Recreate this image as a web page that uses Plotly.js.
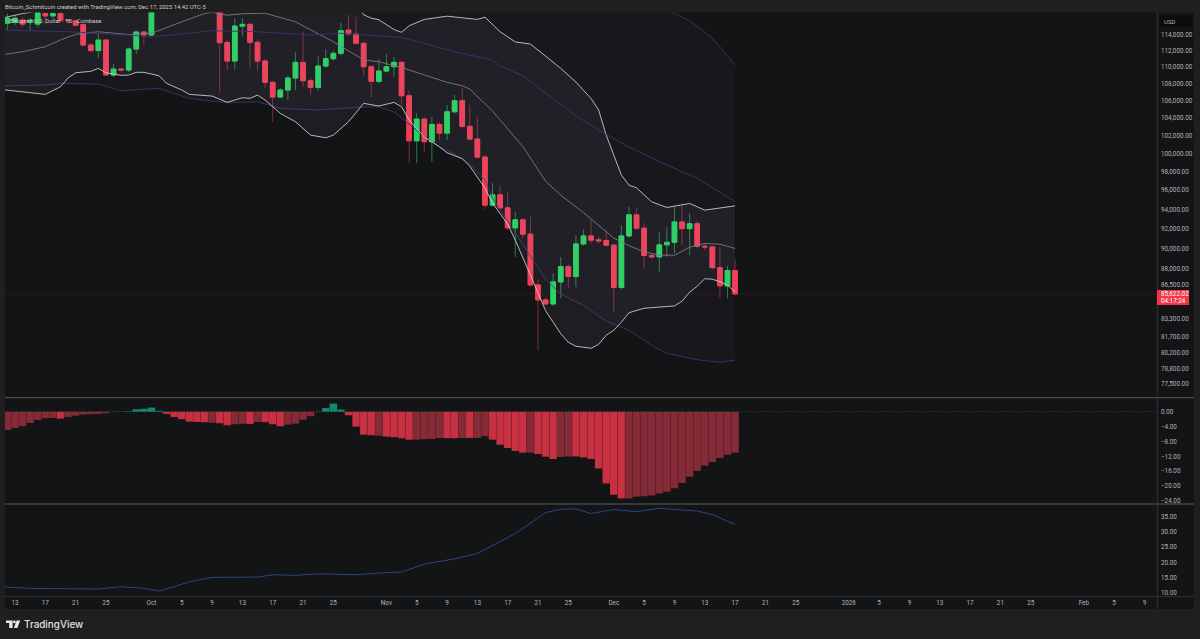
<!DOCTYPE html>
<html><head><meta charset="utf-8">
<style>html,body{margin:0;padding:0;background:#1e1e1f;overflow:hidden}#c{width:1200px;height:639px}</style>
<script src="https://cdn.plot.ly/plotly-3.0.1.min.js"></script>
</head><body><div id="c"></div>
<script>
// Candles: one per day, index 0 = Sep 12 2025, index 96 = Dec 17 2025
const open = [115450,115580,115830,115580,115330,116680,116380,116680,115830,115740,115265,112700,112010,113320,109020,109750,109630,112200,114330,113950,118600,120600,122300,122400,123500,124700,121400,123300,121700,113000,110724,115080,115300,113035,110724,108150,106406,107232,108663,110565,108340,107550,110113,111006,111669,114570,114075,112910,110030,108270,109510,110030,110565,106560,101390,103850,101280,103240,102255,104690,105980,103020,101590,99580,94436,95517,94155,92100,92920,91460,86475,85055,84680,86760,88250,87280,90480,91285,90890,90830,90355,86230,91285,93430,92070,89330,89194,90385,90640,92700,92020,92520,90250,90180,88140,86380,87860];
const high = [116720,116500,116200,116080,117000,117300,117500,117000,116000,115900,115400,113000,114200,113400,110350,109800,112400,114500,114400,118800,121000,123900,122900,125500,126000,125000,124000,123700,122500,113400,116080,116080,115500,113400,111000,108300,107450,109000,111793,114365,108700,111337,112202,111990,115500,116470,116255,113100,110200,110970,111580,111177,110700,107232,104540,104115,104080,103500,105470,106640,107430,105470,104115,99800,96760,96550,95830,93740,93100,93225,87000,85300,87600,89194,88500,91360,91950,92950,91200,91865,90500,92375,94260,94125,92580,89500,91700,92200,94260,94436,93590,92800,90500,90300,90180,88300,88930];
const low = [114575,115200,114950,114450,114950,115300,116000,115600,115500,115000,112500,111730,111090,108900,108780,109500,109390,111580,112700,113800,118400,119300,121600,122000,123000,120700,121000,119500,106912,109630,109750,113740,109870,109510,107470,103540,106300,106054,107232,107623,106640,107200,109900,110800,111400,113900,112800,108940,106370,108000,109300,108820,105500,98925,98925,100170,99060,101480,101480,104500,102800,101400,99400,94000,94300,94000,91900,89194,91060,86300,80456,84500,84500,85215,86160,86285,90300,90555,90500,90200,83934,86000,91100,91900,88080,89000,87730,89194,89560,90355,89360,90000,89850,88000,85215,85215,85500];
const close = [116080,116080,115330,115830,116780,116380,116680,115830,115780,115200,112700,112010,113320,109020,109750,109630,112200,114330,113950,118600,120600,122300,122400,123500,124700,121400,123300,121700,113000,110724,115080,115300,113035,110724,108150,106406,107232,108663,110565,108340,107550,110113,111006,111669,114490,114075,112910,110030,108270,109510,110030,110565,106560,101390,103850,101280,103240,102255,104690,105980,103020,101590,99580,94436,95517,94155,92100,92920,91460,86475,85055,84680,86760,88250,87280,90480,91285,90860,90790,90355,86230,91285,93430,92070,89330,89194,90385,90640,92700,92020,92520,90250,90180,88140,86380,87860,85622];

// Bollinger-type lines, read at their vertices (day index, price)
const whiteLowerDays = [-1,1,3,5,7,8,9,11,12,13,15,16,17,18,20,21,23,24,27,29,31,32,33,34,36,38,40,42,43,44,45,47,49,51,52,53,55,57,58,60,61,63,64,66,67,69,70,71,72,73,74,75,77,78,79,80,81,82,84,88,89,90,91,92,93,94,95,96];
const whiteLower = [107315,107114,106913,106723,107623,108663,109301,109471,109835,109301,108987,109023,109350,109350,108940,108027,107232,106723,106523,105785,106324,106253,106640,106054,104506,103541,102030,101727,102030,102789,103541,105667,105353,105785,105271,103736,101806,100720,100055,99416,98595,96228,94646,92475,90855,87408,85686,84046,82984,81936,81171,80812,80634,80990,81800,82254,82984,83860,84278,84492,84932,85781,86352,87071,87023,86783,86447,85810];
const whiteUpperDays = [-1,0,2,10,19,28,36,44,47,48,49,51,52,53,55,58,62,63,65,67,69,71,73,75,77,78,79,81,82,83,85,87,90,92,96];
const whiteUpper = [115966,116255,116684,118000,120000,127000,127500,121000,116530,116090,115890,114643,114290,115120,115930,116344,115930,116218,114365,113090,112822,111337,109835,108184,106230,104889,102030,97619,96547,96260,94782,94198,94614,93918,94364];
const midDays = [-1,2,5,7,9,12,16,19,23,26,27,29,31,34,38,43,47,49,52,56,58,60,61,64,68,71,73,76,78,80,82,84,86,88,90,92,94,96];
const midLine = [111459,111867,112487,113323,114038,114365,114013,114164,115625,116684,116850,116470,116660,116722,115625,113110,110846,110638,109931,108783,108148,107742,107350,104771,100742,96976,95485,93658,92372,91056,90304,89688,89360,89360,90155,90524,90453,90025];
const purpleMidDays = [-1,8,16,19,27,33,40,44,51,52,59,64,65,68,71,73,75,78,82,87,91,96];
const purpleMid = [114580,114365,113950,113700,114490,114365,113950,114160,113737,113662,111867,110846,110113,108940,106876,105585,104252,102594,100687,98704,97297,94782];
const purpleUpperDays = [-1,19,40,60,75,84,88,90,93,96];
const purpleUpper = [121000,124000,128000,128000,122000,118500,116684,115770,113575,110240];
const purpleLowerDays = [-1,5,7,12,15,20,24,29,33,36,41,46,49,51,52,54,57,59,61,63,64,67,69,71,73,76,79,82,85,87,91,94,96];
const purpleLower = [107706,107825,108027,107944,107150,107434,106253,105738,105855,105086,104890,105202,105271,104658,103970,102594,100687,99910,98813,97082,95170,91558,89194,87023,85591,84557,83076,82254,80900,80190,79620,79400,79576];

// MACD histogram, one per candle, with its tone (B bright red, D dark red, T teal)
const macdHist = [-4.93,-4.4,-3.95,-3.05,-2.24,-1.8,-1.7,-1.9,-1.43,-1.08,-0.8,-0.72,-0.63,-0.45,-0.09,0.05,0.1,0.63,0.8,1.08,0.27,-0.63,-1.43,-2.06,-2.69,-2.78,-2.87,-2.96,-3.14,-3.68,-3.41,-3.23,-3.32,-2.78,-2.87,-3.41,-3.95,-3.5,-3.23,-2.15,-1.26,-0.18,1,2.15,0.54,-1,-4.04,-6.19,-6.37,-6.46,-6.73,-6.9,-7.17,-7.53,-7.53,-7.44,-7.35,-7.09,-7.17,-7.17,-7.09,-7.09,-7.09,-6.64,-7.53,-8.88,-9.78,-10.58,-11.03,-11.03,-11.39,-12.1,-12.74,-12.2,-12.02,-12.02,-12.29,-12.74,-15.25,-19.28,-22.33,-23.32,-23.32,-22.87,-22.69,-22.51,-21.97,-21.52,-20.54,-19.19,-17.49,-15.96,-14.53,-13.54,-12.47,-11.57,-11.03];
const macdTone = "DDDDDDDBDDDDDDDTTTTTTBBBBBBDBBDDBDBBBDDDDDTTTBBBBDBBBBDDDDBBDBDDBBBBBDBBBDDBBBBBBBDDDDDDDDDDDDDDD".split("");

// Lower pane line, vertices
const adxDays = [-1,3,12,15,18,20,22,24,27,33,35,38,41,46,49,52,55,58,59,62,65,67,68,71,73,75,77,80,83,86,91,93,96];
const adxLine = [12.02,11.5,11.27,12.02,11.5,10.62,12.02,13.66,15.09,15.19,15.94,15.74,16.27,15.94,16.49,16.82,19.43,20.74,21.16,22.9,26.7,29.45,31.07,36.3,37.4,37.5,36,37.3,36.6,37.7,36.8,35.65,32.4];

// Axis labels
const xTickDays = [1,5,9,13,19,23,27,31,35,39,43,50,54,58,62,66,70,74,80,84,88,92,96,100,104,111,115,119,123,127,131,135,142,146,150];
const xTickText = ["13","17","21","25","Oct","5","9","13","17","21","25","Nov","5","9","13","17","21","25","Dec","5","9","13","17","21","25","2026","5","9","13","17","21","25","Feb","5","9"];
const priceTicks = [114000,112000,110000,108000,106000,104000,102000,100000,98000,96000,94000,92000,90000,88000,86500,83300,81700,80200,78800,77500];
const priceTickText = priceTicks.map(v => v.toLocaleString("en-US",{minimumFractionDigits:2}));
const macdTicks = [0,-4,-8,-12,-16,-20,-24];
const macdTickText = ["0.00","−4.00","−8.00","−12.00","−16.00","−20.00","−24.00"];
const adxTicks = [35,30,25,20,15,10];
const adxTickText = ["35.00","30.00","25.00","20.00","15.00","10.00"];
const lastPrice = 85622.02;
const countdown = "04:17:24";
const headerText = "Bitcoin_Schmitcoin created with TradingView.com, Dec 17, 2025 14:42 UTC-5";
const legendText = "Bitcoin / U.S. Dollar · 1D · Coinbase";

// Styles
const FONT = "Roboto, 'Liberation Sans', sans-serif";
const W = 1200, H = 639;
const fx = p => p / W, fy = p => 1 - p / H;
const GREEN = "#22d65c", RED = "#f43c52", GREEN_W = "#2a7a48", RED_W = "#7c2c38";
const toneColor = {B:"#c73142", D:"#852b37", T:"#128a72"};
const WHITE = "#c9c9c9", GREY = "#7b7a7e", PURPLE = "#3d3470";
const days = open.map((_, i) => i);
const tickFont = {family:FONT, size:6.3, color:"#b4b5b9"};

function bandLine(x, y, color, extra) {
  return Object.assign({type:"scatter", mode:"lines", x, y, xaxis:"x", yaxis:"y", hoverinfo:"skip",
    line:{color, width:0.9}}, extra || {});
}

const traces = [
  {type:"candlestick", x:days, open, high, low, close, xaxis:"x", yaxis:"y", hoverinfo:"skip", whiskerwidth:0,
    increasing:{line:{color:GREEN_W, width:1}, fillcolor:GREEN_W},
    decreasing:{line:{color:RED_W, width:1}, fillcolor:RED_W}},
  {type:"candlestick", x:days, open, close,
    high:open.map((o,i)=>Math.max(o,close[i])), low:open.map((o,i)=>Math.min(o,close[i])),
    xaxis:"x", yaxis:"y", hoverinfo:"skip", whiskerwidth:0,
    increasing:{line:{color:GREEN, width:1}, fillcolor:GREEN},
    decreasing:{line:{color:RED, width:1}, fillcolor:RED}},
  bandLine(purpleLowerDays, purpleLower, PURPLE),
  bandLine(purpleUpperDays, purpleUpper, PURPLE, {fill:"tonexty", fillcolor:"rgba(125,95,155,0.05)"}),
  bandLine(whiteLowerDays, whiteLower, WHITE),
  bandLine(whiteUpperDays, whiteUpper, WHITE, {fill:"tonexty", fillcolor:"rgba(240,225,250,0.05)"}),
  bandLine(midDays, midLine, GREY),
  bandLine(purpleMidDays, purpleMid, PURPLE),
  {type:"scatter", mode:"lines", x:[-2,155], y:[lastPrice,lastPrice], xaxis:"x", yaxis:"y", hoverinfo:"skip",
    line:{color:"rgba(242,54,69,0.17)", width:0.7}},
  {type:"bar", x:days, y:macdHist, xaxis:"x", yaxis:"y2", hoverinfo:"skip", width:1,
    marker:{color:macdTone.map(t=>toneColor[t]), line:{width:0.4, color:"rgba(20,21,24,0.25)"}}},
  {type:"scatter", mode:"lines", x:[-2,155], y:[0,0], xaxis:"x", yaxis:"y2", hoverinfo:"skip",
    line:{color:"rgba(140,140,140,0.55)", width:0.7, dash:"1px,2px"}},
  {type:"scatter", mode:"lines", x:adxDays, y:adxLine, xaxis:"x", yaxis:"y3", hoverinfo:"skip",
    line:{color:"#2b4286", width:1}}
];

function yAxis(domTop, domBottom, range, tickvals, ticktext, extra) {
  return Object.assign({domain:[fy(domBottom), fy(domTop)], range, tickmode:"array", tickvals, ticktext,
    side:"right", anchor:"x", ticks:"", ticklabelstandoff:3, showgrid:false, zeroline:false, showline:false, tickfont:tickFont, fixedrange:true}, extra||{});
}
function rect(x0,y0,x1,y1,color,layer){
  return {type:"rect", xref:"paper", yref:"paper", x0:fx(x0), x1:fx(x1), y0:fy(y0), y1:fy(y1),
    fillcolor:color, line:{width:0}, layer:layer||"below"};
}
function hline(y,x0,x1,color,w){
  return {type:"line", xref:"paper", yref:"paper", x0:fx(x0), x1:fx(x1), y0:fy(y), y1:fy(y), line:{color,width:w||1}, layer:"above"};
}
function poly(pts,color){
  return {type:"path", xref:"paper", yref:"paper", fillcolor:color, line:{width:0}, layer:"above",
    path:"M"+pts.map(p=>fx(p[0])+" "+fy(p[1])).join("L")+"Z"};
}
function label(x,y,text,size,color,extra){
  return Object.assign({xref:"paper", yref:"paper", x:fx(x), y:fy(y), text, showarrow:false, xanchor:"left", yanchor:"middle",
    font:{family:FONT, size, color}, borderpad:0, borderwidth:0}, extra||{});
}

const layout = {
  width:W, height:H, margin:{l:0,r:0,t:0,b:0,pad:0}, paper_bgcolor:"#1f1f20", plot_bgcolor:"rgba(0,0,0,0)",
  showlegend:false, boxmode:"overlay", boxgap:0.12, bargap:0, barmode:"overlay",
  xaxis:{domain:[fx(5),fx(1157)], range:[-0.317,151.66], anchor:"y3", tickmode:"array", tickvals:xTickDays, ticktext:xTickText,
    ticks:"", ticklabelstandoff:2, showgrid:false, zeroline:false, showline:false, tickfont:tickFont, rangeslider:{visible:false}, fixedrange:true},
  yaxis:yAxis(12.5,397.3,[Math.log10(76386),Math.log10(116818)],priceTicks,priceTickText,{type:"log"}),
  yaxis2:yAxis(398,503.7,[-24.72,3.66],macdTicks,macdTickText),
  yaxis3:yAxis(504.3,596,[8.99,39.01],adxTicks,adxTickText),
  shapes:[
    rect(5,12.5,1194,609,"#131416"),
    hline(397.7,5,1194,"#6e6e70",0.8),
    hline(504,5,1194,"#6e6e70",0.8),
    hline(596.5,5,1194,"#303133",1),
    {type:"line", xref:"paper", yref:"paper", x0:fx(1157.3), x1:fx(1157.3), y0:fy(12.5), y1:fy(609), line:{color:"#303133",width:1}, layer:"above"},
    rect(1160,15.5,1192,27,"#0d0d0e","above"),
    rect(1157,290,1189,305,"#f23645","above"),
    poly([[6,620.5],[12.6,620.5],[12.6,628],[9.2,628],[9.2,623],[6,623]],"#e6e6e6"),
    {type:"circle", xref:"paper", yref:"paper", x0:fx(13),x1:fx(15.8),y0:fy(620.5),y1:fy(623.3), fillcolor:"#e6e6e6", line:{width:0}, layer:"above"},
    poly([[16.6,620.5],[20.2,620.5],[17.3,628],[13.8,628]],"#e6e6e6")
  ],
  annotations:[
    label(5,7,headerText,5.9,"#cfcfcf"),
    label(10,20.6,legendText,5.9,"#cfcfcf"),
    label(1164,21.2,"USD",6,"#b4b5b9"),
    label(1161,294,lastPrice.toLocaleString("en-US",{minimumFractionDigits:2}),6.3,"#ffffff"),
    label(1161,301,countdown,6.3,"#ffffff"),
    label(23.7,624,"TradingView",9.9,"#e0e0e0",{font:{family:"Inter, Roboto, sans-serif",size:9.9,color:"#e0e0e0",weight:500}})
  ]
};
Plotly.newPlot("c", traces, layout, {staticPlot:true, displayModeBar:false});
</script></body></html>
